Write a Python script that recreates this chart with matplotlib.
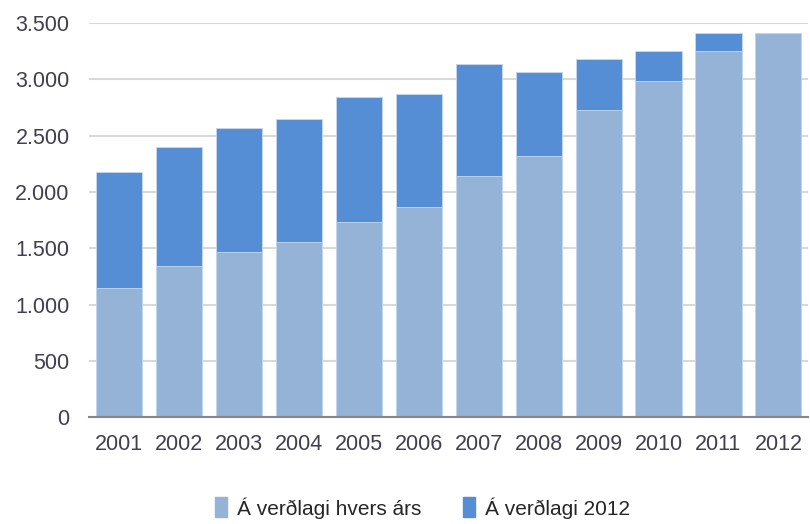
import numpy as np
import matplotlib.pyplot as plt
from matplotlib.patches import Patch

plt.rcParams['font.family'] = ['Liberation Sans', 'DejaVu Sans']

years = ['2001', '2002', '2003', '2004', '2005', '2006',
         '2007', '2008', '2009', '2010', '2011', '2012']
# nominal prices (each year's price level)
nominal = [1149, 1344, 1466, 1557, 1732, 1870, 2144, 2321, 2727, 2985, 3255, 3411]
# at 2012 prices
real = [2180, 2396, 2572, 2650, 2843, 2866, 3136, 3063, 3177, 3254, 3411, 3411]
yticks = [0, 500, 1000, 1500, 2000, 2500, 3000, 3500]
ytick_labels = ['0', '500', '1.000', '1.500', '2.000', '2.500', '3.000', '3.500']

c_light = '#95B3D7'
c_dark = '#558ED5'
txt = '#3F3F4F'

fig = plt.figure(figsize=(8.1, 5.24), dpi=100)
ax = fig.add_axes([0.110, 0.204, 0.888, 0.752])

x = np.arange(len(years))
w = 0.77
ax.bar(x, real, w, color=c_dark, edgecolor='#C6D9F1', linewidth=0.6, zorder=2)
ax.bar(x, nominal, w, color=c_light, edgecolor='#C6D9F1', linewidth=0.6, zorder=3)

ax.set_xlim(-0.5, len(years) - 0.5)
ax.set_ylim(0, 3500)
ax.set_yticks(yticks)
ax.set_yticklabels(ytick_labels)
ax.set_xticks(x)
ax.set_xticklabels(years)
ax.tick_params(axis='both', length=0, labelsize=15.5, colors=txt)
ax.tick_params(axis='y', pad=14)
ax.tick_params(axis='x', pad=12)

ax.grid(axis='y', color='#D9D9D9', linewidth=1.5, zorder=0)
ax.set_axisbelow(True)
for s in ['top', 'right', 'left']:
    ax.spines[s].set_visible(False)
ax.spines['bottom'].set_color('#868686')
ax.spines['bottom'].set_linewidth(1.5)
ax.spines['bottom'].set_zorder(4)

handles = [Patch(color=c_light, label='Á verðlagi hvers árs'),
           Patch(color=c_dark, label='Á verðlagi 2012')]
fig.legend(handles=handles, loc='center', bbox_to_anchor=(0.522, 0.031), ncol=2,
           frameon=False, fontsize=15, handlelength=0.55, handleheight=1.1,
           handletextpad=0.5, columnspacing=2.0, labelcolor='#262626')

fig.savefig('out.png', dpi=100)
